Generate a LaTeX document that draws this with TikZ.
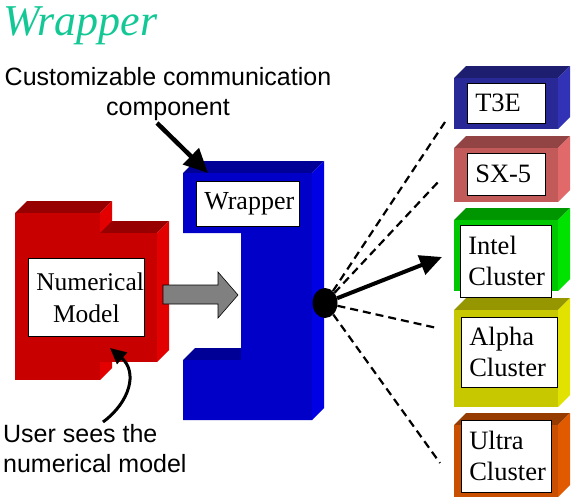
\documentclass[tikz,border=0pt]{standalone}
\usepackage{fontspec}
\setmainfont{Liberation Serif}
\setsansfont{Liberation Sans}
\usetikzlibrary{arrows.meta, shapes.geometric}

\definecolor{titlecol}{RGB}{20,200,150}
\definecolor{redF}{RGB}{200,0,0}
\definecolor{redS}{RGB}{226,0,0}
\definecolor{blueF}{RGB}{0,0,200}
\definecolor{blueS}{RGB}{0,0,228}
\definecolor{t3eF}{RGB}{40,40,150}
\definecolor{t3eS}{RGB}{50,50,182}
\definecolor{sxF}{RGB}{195,90,90}
\definecolor{sxS}{RGB}{225,105,105}
\definecolor{intelF}{RGB}{0,200,0}
\definecolor{intelS}{RGB}{0,226,0}
\definecolor{alphaF}{RGB}{200,200,0}
\definecolor{alphaS}{RGB}{226,226,0}
\definecolor{ultraF}{RGB}{200,80,0}
\definecolor{ultraS}{RGB}{226,90,0}

\tikzset{
  pics/mybox/.style n args={4}{code={
    \fill[#3!75!black] (0,0) -- ++(12,-12) -- ++(#1,0) -- ++(-12,12) -- cycle;
    \fill[#4] (#1,0) -- ++(12,-12) -- ++(0,#2) -- ++(-12,12) -- cycle;
    \fill[#3] (0,0) rectangle ++(#1,#2);
  }},
  tag/.style = {draw, line width=0.6pt, fill=white, anchor=north west,
    inner xsep=8pt, inner ysep=0pt, align=left,
    font=\fontsize{26.5}{31}\selectfont},
  note/.style = {font=\sffamily\fontsize{25}{30}\selectfont, inner sep=0pt},
  wire/.style = {line width=2.2pt, dash pattern=on 8pt off 5pt}
}

\begin{document}
\begin{tikzpicture}[x=1pt, y=-1pt]
\useasboundingbox (0,0) rectangle (571,498);

% タイトル
\node[anchor=base west, inner sep=0pt, text=titlecol,
  font=\itshape\fontsize{44}{44}\selectfont] (title) at (3,35) {Wrapper};

% 数値モデル(赤いブロック)
\path (15,213) pic {mybox={85}{167}{redF}{redS}};
\path (100,233) pic {mybox={57}{129}{redF}{redS}};
\node[tag, align=center, text width=100pt, minimum height=78pt,
  font=\fontsize{25.5}{32}\selectfont] (model) at (28,258) {Numerical\\Model};

% ラッパー(青いブロック)
\fill[blueF!75!black] (183,173) -- (195,161) -- (324,161) -- (312,173) -- cycle;
\fill[blueF!75!black] (183,360) -- (195,348) -- (241,348) -- (241,360) -- cycle;
\fill[blueS] (312,173) -- (324,161) -- (324,408) -- (312,420) -- cycle;
\fill[blueF] (183,173) -- (312,173) -- (312,420) -- (183,420) -- (183,360)
  -- (241,360) -- (241,233) -- (183,233) -- cycle;
\node[tag, align=center, text width=87pt, minimum height=45pt,
  font=\fontsize{26}{32}\selectfont] (wrap) at (196,181) {Wrapper};

% 灰色の矢印
\draw[fill=gray, line width=0.6pt] (163,285) -- (218,285) -- (218,272) -- (238,295)
  -- (218,318) -- (218,304) -- (163,304) -- cycle;

% 計算機(右側のブロック)
\path (454,78) pic {mybox={104}{51}{t3eF}{t3eS}};
\path (454,148) pic {mybox={104}{54}{sxF}{sxS}};
\path (454,220) pic {mybox={104}{71}{intelF}{intelS}};
\path (454,310) pic {mybox={104}{97}{alphaF}{alphaS}};
\path (454,425) pic {mybox={104}{72}{ultraF}{ultraS}};
\node[tag, text width=62pt, minimum height=40pt] (t3e) at (467,83) {T3E};
\node[tag, text width=62pt, minimum height=42pt] (sx5) at (467,153) {SX-5};
\node[tag, text width=75pt, minimum height=72pt] (intel) at (460,225) {Intel\\Cluster};
\node[tag, text width=80pt, minimum height=70pt] (alpha) at (461,317) {Alpha\\Cluster};
\node[tag, text width=74pt, minimum height=72pt] (ultra) at (461,420) {Ultra\\Cluster};

% 通信ポートと線
\node[ellipse, fill=black, minimum width=25pt, minimum height=30pt, inner sep=0pt]
  (port) at (325,303) {};
\coordinate (toT3E) at (445,122);
\coordinate (toSX) at (440,180);
\coordinate (toIntel) at (442,257);
\coordinate (toAlpha) at (437,328);
\coordinate (toUltra) at (440,463);
\draw[wire] (port) -- (toT3E);
\draw[wire] (port) -- (toSX);
\draw[wire] (port) -- (toAlpha);
\draw[wire] (port) -- (toUltra);
\draw[line width=4pt, -{Triangle[length=22pt, width=20pt]}] (port) -- (toIntel);

% 説明文と矢印
\node[note, anchor=north, align=center] (custom) at (168,67)
  {Customizable communication\\component};
\coordinate (tail) at (157,123);
\coordinate (wraptop) at (208,173);
\draw[line width=4.5pt, -{Triangle[length=24pt, width=22pt]}] (tail) -- (wraptop);

\node[note, anchor=north west, align=left] (user) at (3,424)
  {User sees the\\numerical model};
\coordinate (ustart) at (103,422);
\coordinate (utip) at (110,348);
\draw[line width=3pt, -{Triangle[length=16pt, width=15pt]}]
  (ustart) .. controls (130,402) and (138,372) .. (utip);
\end{tikzpicture}
\end{document}
